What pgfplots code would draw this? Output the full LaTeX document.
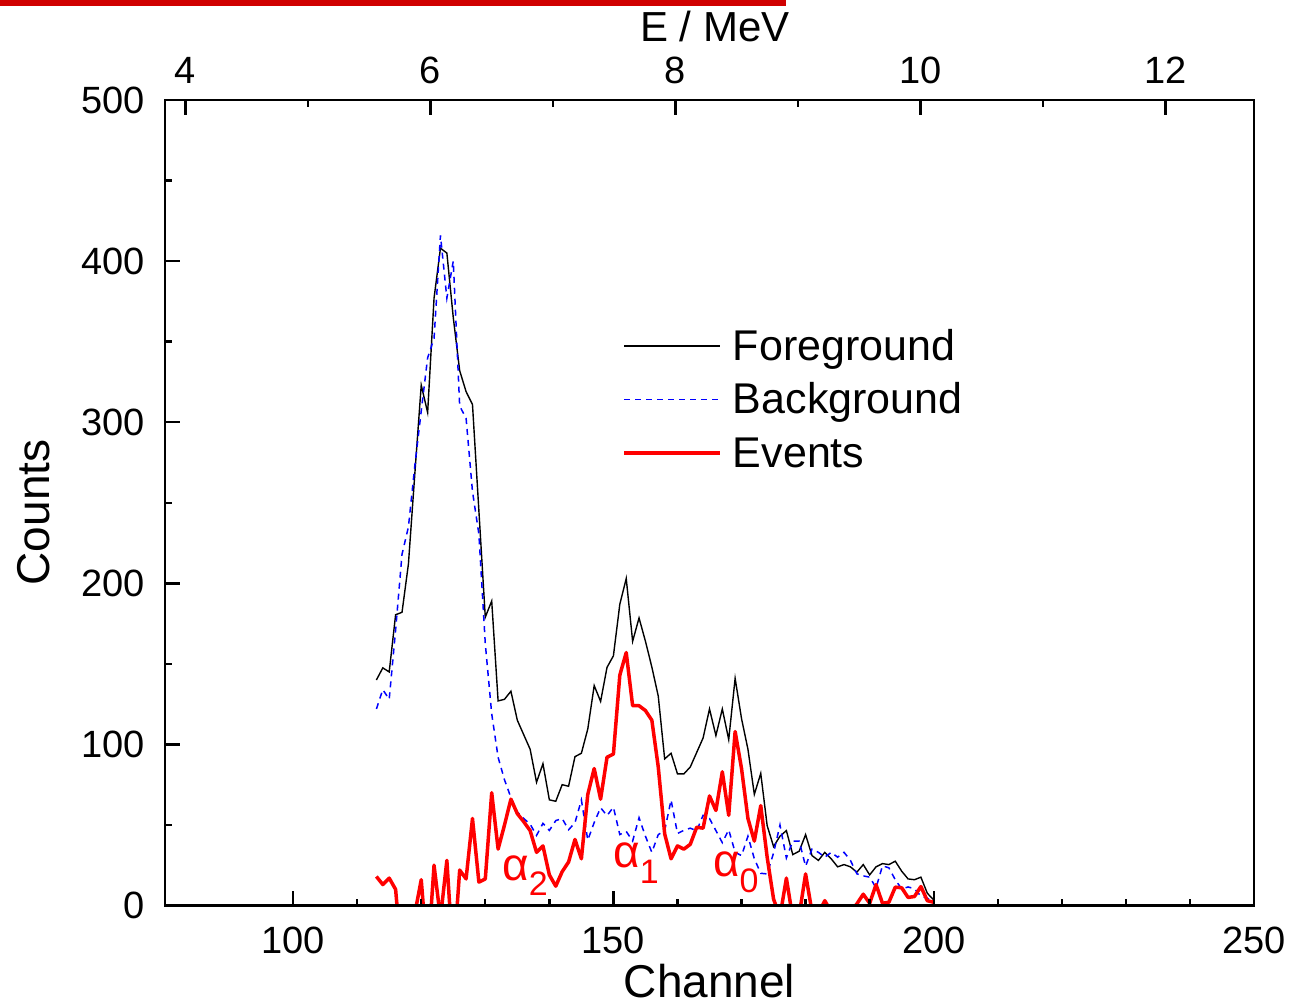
\documentclass[border=0pt]{standalone}
\usepackage{fontspec}
\setmainfont{Liberation Sans}
\usepackage{pgfplots}
\usepackage{pgfplotstable}
\pgfplotsset{compat=1.18}
\definecolor{barred}{RGB}{208,0,0}

\pgfplotstableread{
ch fg bg ev
113 140 122 18
114 147.5 134 13
115 145 128 17
116 180.5 171 10
117 182 218 -36
118 212 235 -23
119 268 273 -5
120 323 307 16
121 306 340 -34
122 377 352 25
123 408 416 -8
124 405 377 28
125 365 400 -35
126 332 310 22
127 319 302.5 16.5
128 311 257 54
129 245 230.5 14.5
130 179 162.5 16.5
131 189 119 70
132 127 92 35
133 128 78 50
134 133 67 66
135 115 58 57
136 106 54 52
137 97 50.5 46.5
138 76.5 43.5 33
139 88 51 37
140 65.6 46.6 19
141 64.7 52.7 12
142 75 54 21
143 74 47 27
144 92.4 51.4 41
145 94.5 65.5 29
146 109.6 40.6 69
147 136.5 51.5 85
148 126.7 60.7 66
149 147.8 55.8 92
150 155 61 94
151 187 44 143
152 203 46 157
153 164 40 124
154 178.5 54.5 124
155 164 43 121
156 148 33 115
157 130 44 86
158 91 46.5 44.5
159 94.5 65.5 29
160 81.7 44.7 37
161 81.7 46.7 35
162 86 48 38
163 95 46.4 48.6
164 104 56 48
165 122 54 68
166 105.5 46.5 59
167 122 39 83
168 103 47 56
169 141 33 108
170 116 31 85
171 97 43 54
172 69 29 40
173 82 20 62
174 49.6 19.6 30
175 36.6 32.6 4
176 43 50 -7
177 46.5 29.5 17
178 31.6 40 -8
179 33.7 40 -6
180 44 24.4 19.6
181 31 35 -4
182 28 33 -5
183 33 30 3
184 29 33 -4
185 24 30 -6
186 25.4 33 -8
187 24 28 -4
188 20.7 19.7 1
189 25.4 18.4 7
190 19 17.6 1.4
191 24 11 13
192 26 24.6 1.4
193 25.4 23.4 2
194 27.5 16 11.4
195 21.3 10.3 11
196 16.5 11.5 5
197 16 10.4 5.6
198 17.6 5.8 11.8
199 7.6 4.6 3
200 3.5 1.5 2
}\data

\begin{document}
\begin{tikzpicture}
\useasboundingbox (-82.5pt,-50.75pt) rectangle (564pt,452.75pt);
\fill[barred] (-82.5pt,449.75pt) rectangle (310.5pt,452.75pt);
% top energy axis
\begin{axis}[
  at={(0,0)}, anchor=south west,
  scale only axis, width=544.5pt, height=402.75pt,
  xmin=3.834, xmax=12.721, ymin=0, ymax=1,
  axis line style={draw=none},
  ytick=\empty,
  xtick={4,6,8,10,12}, minor xtick={5,7,9,11},
  xtick pos=top, xticklabel pos=top,
  tick align=inside,
  major tick length=7.5pt, minor tick length=3.5pt,
  every tick/.style={black, line width=1.2pt},
  /pgf/number format/assume math mode=true,
  xticklabel style={font=\fontsize{19}{19}\selectfont, anchor=base, yshift=8.3pt, inner sep=0pt},
  xlabel={E / MeV},
  xlabel style={font=\fontsize{21}{21}\selectfont, at={(axis description cs:0.505,1.072)}, anchor=base, inner sep=0pt},
]
\end{axis}
% main axis
\begin{axis}[
  at={(0,0)}, anchor=south west,
  scale only axis, width=544.5pt, height=402.75pt,
  xmin=80, xmax=250, ymin=0, ymax=500,
  xtick={100,150,200,250}, minor x tick num=4,
  ytick={0,100,...,500}, minor y tick num=1,
  xtick pos=bottom, ytick pos=left,
  tick align=inside,
  major tick length=7.5pt, minor tick length=3.5pt,
  every tick/.style={black, line width=1.2pt},
  axis line style={line width=1.35pt},
  axis on top,
  /pgf/number format/assume math mode=true,
  ticklabel style={font=\fontsize{19}{19}\selectfont},
  xticklabel style={anchor=base, yshift=-23.75pt, inner sep=0pt},
  yticklabel style={anchor=east, xshift=-10pt, inner sep=0pt},
  xlabel={Channel}, ylabel={Counts},
  xlabel style={font=\fontsize{23}{23}\selectfont, at={(axis description cs:0.5,-0.1136)}, anchor=base, inner sep=0pt},
  ylabel style={font=\fontsize{23}{23}\selectfont, at={(axis description cs:-0.1056,0.488)}, anchor=base, inner sep=0pt},
  legend style={at={(axis description cs:0.4197,0.717)}, anchor=north west, draw=none, fill=none,
    inner sep=0pt, row sep=6.25pt, font=\fontsize{21.5}{21.5}\selectfont,
    nodes={inner sep=0pt, text height=16pt, text depth=4.5pt},
    /tikz/every odd column/.append style={column sep=5.5pt}},
  legend cell align=left,
  legend image code/.code={\draw[#1] (0pt,1.5pt) -- (48pt,1.5pt);},
]
\addplot[black, line width=0.7pt] table[x=ch,y=fg]{\data};
\addplot[blue, line width=0.75pt, dash pattern=on 3pt off 2.5pt] table[x=ch,y=bg]{\data};
\addplot[red, line width=1.75pt, line join=round] table[x=ch,y=ev]{\data};
\legend{Foreground, Background, Events}
\node[red, anchor=base west, inner sep=0pt, font=\fontsize{23}{23}\selectfont] at (axis cs:132.6,15.8) {α\raisebox{-7.5pt}{\fontsize{17}{17}\selectfont 2}};
\node[red, anchor=base west, inner sep=0pt, font=\fontsize{23}{23}\selectfont] at (axis cs:149.9,23.9) {α\raisebox{-8pt}{\fontsize{17}{17}\selectfont 1}};
\node[red, anchor=base west, inner sep=0pt, font=\fontsize{23}{23}\selectfont] at (axis cs:165.5,17.7) {α\raisebox{-8pt}{\fontsize{17}{17}\selectfont 0}};
\end{axis}
\end{tikzpicture}
\end{document}
